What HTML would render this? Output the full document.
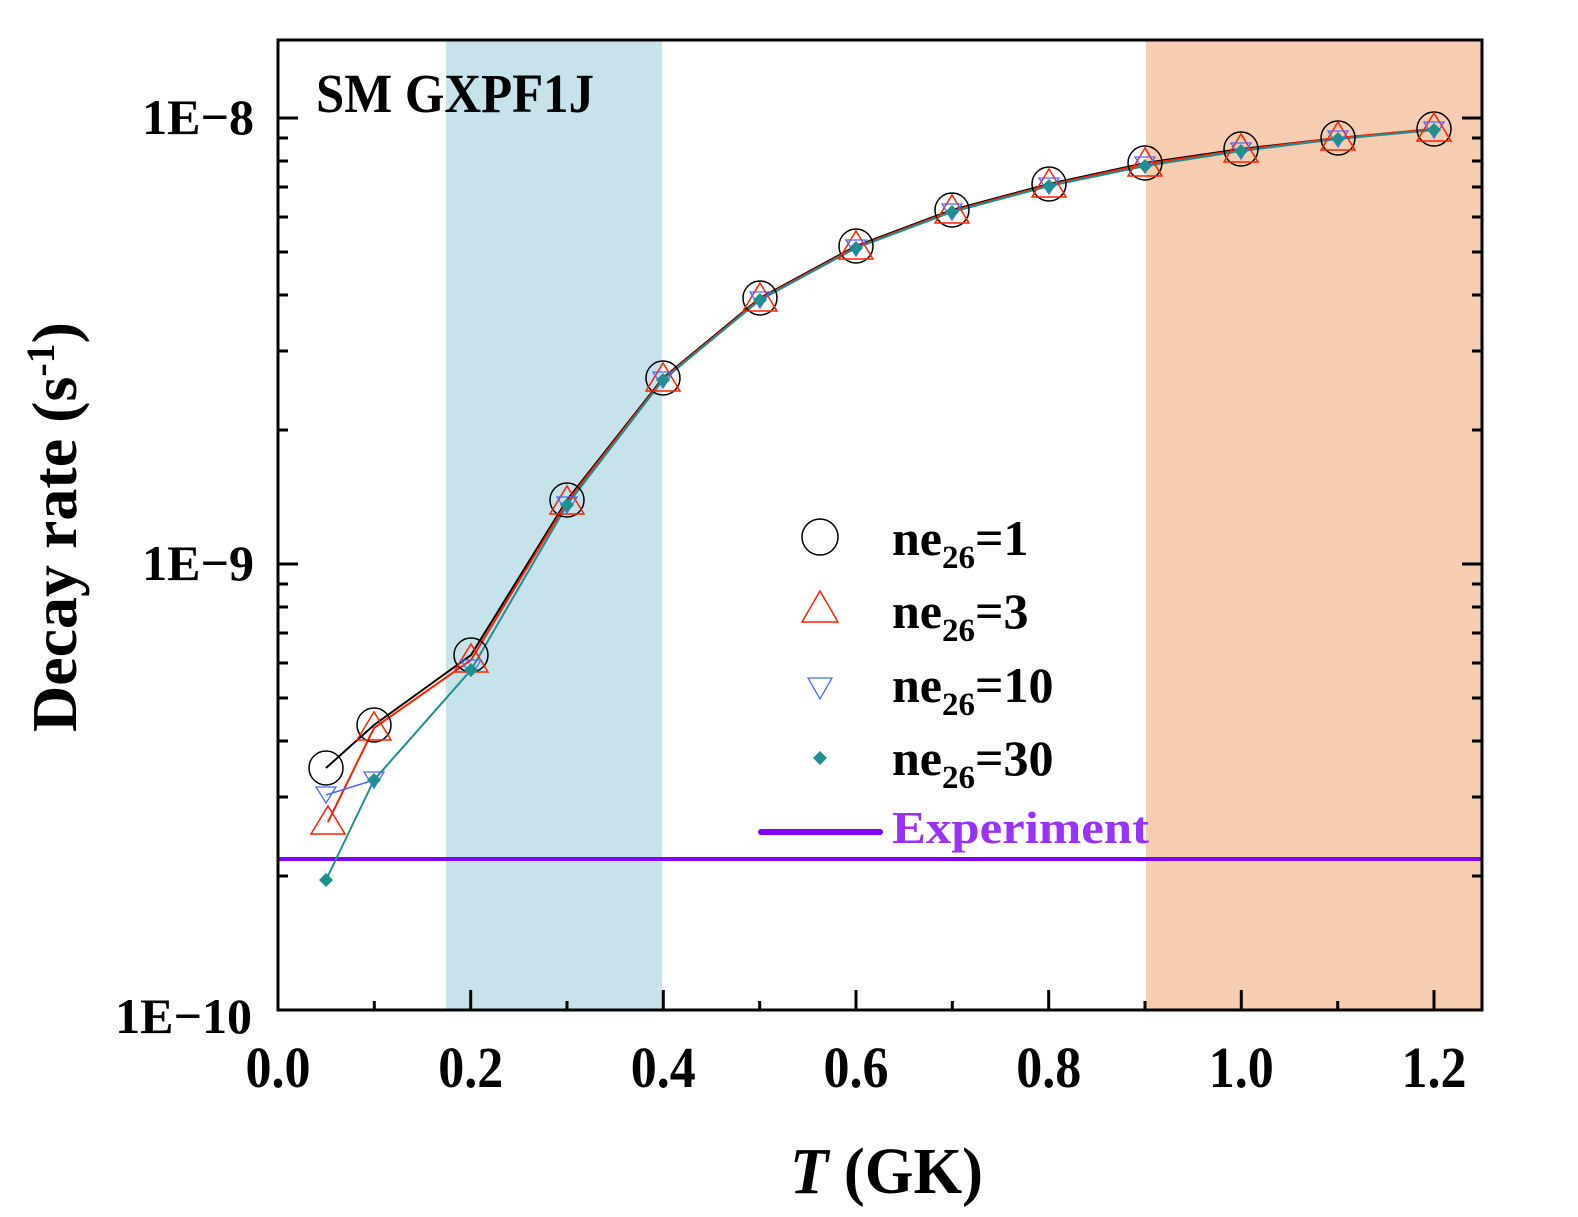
<!DOCTYPE html>
<html><head><meta charset="utf-8"><style>
html,body{margin:0;padding:0;background:#fff;}
svg{display:block;}
text{font-family:"Liberation Serif",serif;font-weight:bold;}
</style></head><body>
<svg width="1578" height="1217" viewBox="0 0 1578 1217" xmlns="http://www.w3.org/2000/svg">
<rect x="446" y="40" width="216" height="970" fill="#c6e3ec"/>
<rect x="1146" y="40" width="336" height="970" fill="#f7cdb1"/>
<line x1="278" y1="859" x2="1482" y2="859" stroke="#8000ff" stroke-width="4"/>
<g stroke="#000" stroke-width="3">
<rect x="278" y="40" width="1204" height="970" fill="none"/>
<path d="M278 118h20M278 564h20M1482 118h-20M1482 564h-20
M278 876h10M278 797h10M278 741h10M278 698h10M278 663h10M278 633h10M278 607h10M278 584h10
M278 430h10M278 351h10M278 295h10M278 252h10M278 217h10M278 187h10M278 161h10M278 138h10
M1482 876h-10M1482 797h-10M1482 741h-10M1482 698h-10M1482 663h-10M1482 633h-10M1482 607h-10M1482 584h-10
M1482 430h-10M1482 351h-10M1482 295h-10M1482 252h-10M1482 217h-10M1482 187h-10M1482 161h-10M1482 138h-10
M470.7 1010v-20M663.3 1010v-20M856 1010v-20M1048.7 1010v-20M1241.3 1010v-20M1434 1010v-20
M374.3 1010v-9M567 1010v-9M759.7 1010v-9M952.3 1010v-9M1145 1010v-9M1337.7 1010v-9"/>
</g>
<polyline fill="none" stroke="#000" stroke-width="2" points="326,768 374,725 471,655 567,500 663,378 760,298 856,246 952,210 1049,184 1145,163 1241,149 1338,138 1434,129"/>
<polyline fill="none" stroke="#ff2000" stroke-width="2" points="328,822 374,728 471,660 567,502 663,379 760,299 856,247 952,211 1049,185 1145,164 1241,150 1338,138 1434,129"/>
<polyline fill="none" stroke="#4a6bff" stroke-width="1.5" points="326,795 374,780"/>
<polyline fill="none" stroke="#1f8f8f" stroke-width="2" points="326,880 374,780 471,670 567,505 663,380 760,300 856,248 952,212 1049,186 1145,166 1241,151 1338,139 1434,130"/>
<g fill="none" stroke="#000" stroke-width="1.5">
<circle cx="326" cy="768" r="17"/><circle cx="374" cy="725" r="17"/><circle cx="471" cy="655" r="17"/><circle cx="567" cy="500" r="17"/><circle cx="663" cy="378" r="17"/><circle cx="760" cy="298" r="17"/><circle cx="856" cy="246" r="17"/><circle cx="952" cy="210" r="17"/><circle cx="1049" cy="184" r="17"/><circle cx="1145" cy="163" r="17"/><circle cx="1241" cy="149" r="17"/><circle cx="1338" cy="138" r="17"/><circle cx="1434" cy="129" r="17"/>
<circle cx="820" cy="537" r="18"/>
</g>
<g fill="none" stroke="#ff2000" stroke-width="1.5">
<path d="M328 806l17 28h-34z"/><path d="M374 712l17 28h-34z"/><path d="M471 644l17 28h-34z"/><path d="M567 486l17 28h-34z"/><path d="M663 363l17 28h-34z"/><path d="M760 283l17 28h-34z"/><path d="M856 231l17 28h-34z"/><path d="M952 195l17 28h-34z"/><path d="M1049 169l17 28h-34z"/><path d="M1145 148l17 28h-34z"/><path d="M1241 134l17 28h-34z"/><path d="M1338 122l17 28h-34z"/><path d="M1434 113l17 28h-34z"/>
<path d="M820 591l18 31h-36z"/>
</g>
<g fill="none" stroke="#4a6bff" stroke-width="1.3">
<path d="M326 803l-10-16h20z"/><path d="M374 788l-10-16h20z"/><path d="M471 676l-10-16h20z"/><path d="M567 513l-10-16h20z"/><path d="M663 388l-10-16h20z"/><path d="M760 308l-10-16h20z"/><path d="M856 256l-10-16h20z"/><path d="M952 220l-10-16h20z"/><path d="M1049 194l-10-16h20z"/><path d="M1145 173l-10-16h20z"/><path d="M1241 159l-10-16h20z"/><path d="M1338 147l-10-16h20z"/><path d="M1434 138l-10-16h20z"/>
<path d="M820 699l-12-21h24z"/>
</g>
<g fill="#1f8f8f">
<path d="M326 873l7 7-7 7-7-7z"/><path d="M374 773l7 7-7 7-7-7z"/><path d="M471 663l7 7-7 7-7-7z"/><path d="M567 498l7 7-7 7-7-7z"/><path d="M663 373l7 7-7 7-7-7z"/><path d="M760 293l7 7-7 7-7-7z"/><path d="M856 241l7 7-7 7-7-7z"/><path d="M952 205l7 7-7 7-7-7z"/><path d="M1049 179l7 7-7 7-7-7z"/><path d="M1145 159l7 7-7 7-7-7z"/><path d="M1241 144l7 7-7 7-7-7z"/><path d="M1338 132l7 7-7 7-7-7z"/><path d="M1434 123l7 7-7 7-7-7z"/>
<path d="M820 751l7 7-7 7-7-7z"/>
</g>
<g font-size="50" fill="#000">
<text x="892" y="555">ne<tspan font-size="33" dy="13">26</tspan><tspan dy="-13">=1</tspan></text>
<text x="892" y="628">ne<tspan font-size="33" dy="13">26</tspan><tspan dy="-13">=3</tspan></text>
<text x="892" y="702">ne<tspan font-size="33" dy="13">26</tspan><tspan dy="-13">=10</tspan></text>
<text x="892" y="775">ne<tspan font-size="33" dy="13">26</tspan><tspan dy="-13">=30</tspan></text>
</g>
<line x1="761" y1="832" x2="880" y2="832" stroke="#8000ff" stroke-width="6" stroke-linecap="round"/>
<text x="892" y="843" font-size="46" fill="#9a32ff" textLength="257" lengthAdjust="spacingAndGlyphs">Experiment</text>
<text x="316" y="112" font-size="55" textLength="278" lengthAdjust="spacingAndGlyphs">SM GXPF1J</text>
<g font-size="50" text-anchor="end">
<text x="254" y="134">1E−8</text>
<text x="254" y="580">1E−9</text>
<text x="252" y="1033">1E−10</text>
</g>
<g font-size="58" text-anchor="middle">
<text x="278" y="1087" textLength="65" lengthAdjust="spacingAndGlyphs">0.0</text><text x="470.7" y="1087" textLength="65" lengthAdjust="spacingAndGlyphs">0.2</text><text x="663.3" y="1087" textLength="65" lengthAdjust="spacingAndGlyphs">0.4</text><text x="856" y="1087" textLength="65" lengthAdjust="spacingAndGlyphs">0.6</text><text x="1048.7" y="1087" textLength="65" lengthAdjust="spacingAndGlyphs">0.8</text><text x="1241.3" y="1087" textLength="65" lengthAdjust="spacingAndGlyphs">1.0</text><text x="1434" y="1087" textLength="65" lengthAdjust="spacingAndGlyphs">1.2</text>
</g>
<text x="790" y="1193" font-size="66" textLength="193" lengthAdjust="spacingAndGlyphs"><tspan font-style="italic">T</tspan> (GK)</text>
<text transform="translate(76,527) rotate(-90)" font-size="64" text-anchor="middle">Decay rate (s<tspan font-size="40" dy="-22">-1</tspan><tspan dy="22">)</tspan></text>
</svg>
</body></html>
